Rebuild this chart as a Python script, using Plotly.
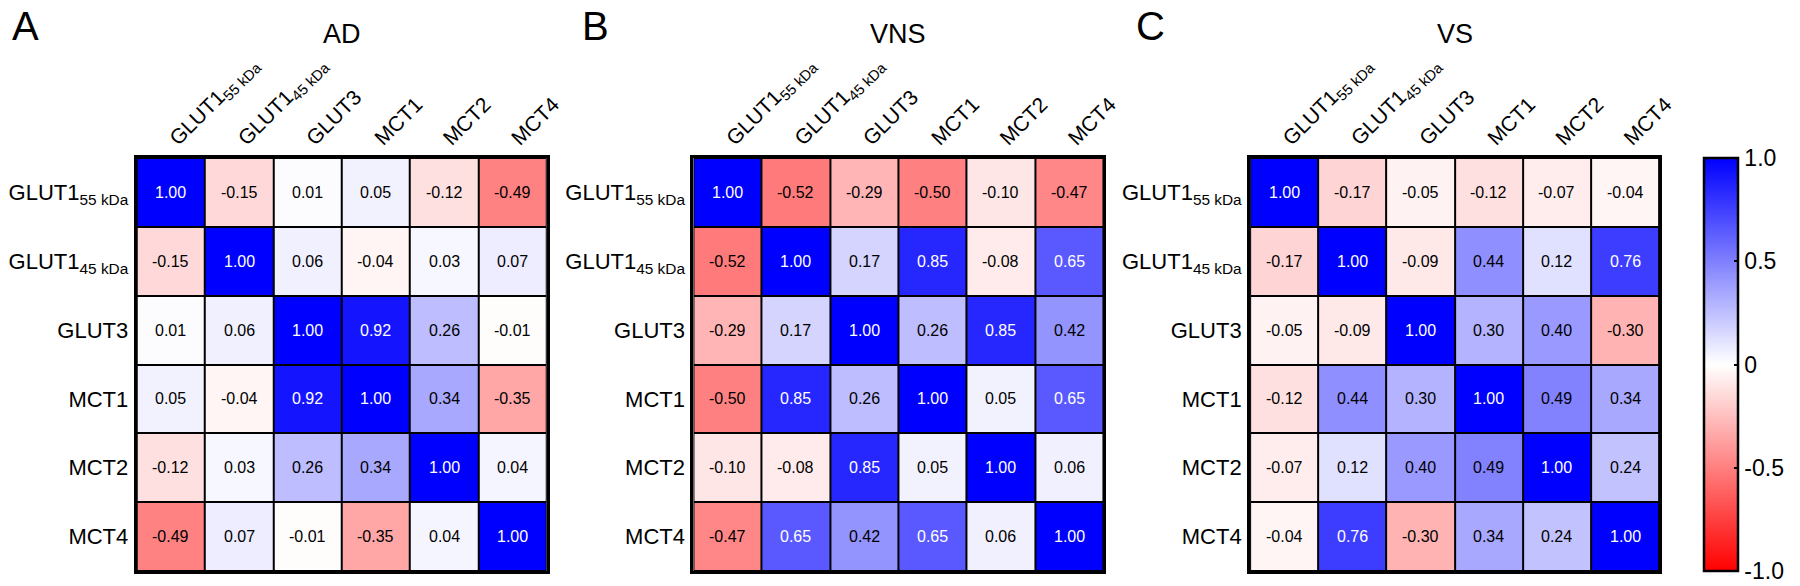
import plotly.graph_objects as go

labels = ["GLUT1<sub>55 kDa</sub>", "GLUT1<sub>45 kDa</sub>", "GLUT3", "MCT1", "MCT2", "MCT4"]

ad = [
    [1.00, -0.15, 0.01, 0.05, -0.12, -0.49],
    [-0.15, 1.00, 0.06, -0.04, 0.03, 0.07],
    [0.01, 0.06, 1.00, 0.92, 0.26, -0.01],
    [0.05, -0.04, 0.92, 1.00, 0.34, -0.35],
    [-0.12, 0.03, 0.26, 0.34, 1.00, 0.04],
    [-0.49, 0.07, -0.01, -0.35, 0.04, 1.00],
]
vns = [
    [1.00, -0.52, -0.29, -0.50, -0.10, -0.47],
    [-0.52, 1.00, 0.17, 0.85, -0.08, 0.65],
    [-0.29, 0.17, 1.00, 0.26, 0.85, 0.42],
    [-0.50, 0.85, 0.26, 1.00, 0.05, 0.65],
    [-0.10, -0.08, 0.85, 0.05, 1.00, 0.06],
    [-0.47, 0.65, 0.42, 0.65, 0.06, 1.00],
]
vs = [
    [1.00, -0.17, -0.05, -0.12, -0.07, -0.04],
    [-0.17, 1.00, -0.09, 0.44, 0.12, 0.76],
    [-0.05, -0.09, 1.00, 0.30, 0.40, -0.30],
    [-0.12, 0.44, 0.30, 1.00, 0.49, 0.34],
    [-0.07, 0.12, 0.40, 0.49, 1.00, 0.24],
    [-0.04, 0.76, -0.30, 0.34, 0.24, 1.00],
]
matrices = [ad, vns, vs]
titles = ["AD", "VNS", "VS"]
letters = ["A", "B", "C"]
cbar_ticks = [-1.0, -0.5, 0, 0.5, 1.0]
cbar_ticktext = ["-1.0", "-0.5", "0", "0.5", "1.0"]

W, H = 1800, 586
FONT = "Arial, Liberation Sans, Helvetica, sans-serif"
x_px = [(138, 552), (700, 1114), (1262, 1675)]
y_top, y_bot = 158, 571
letter_x = [10, 586, 1145]

colorscale = [[0.0, "#ff0000"], [0.5, "#ffffff"], [1.0, "#0000ff"]]

fig = go.Figure()
idx = list(range(len(labels)))
annotations = []
layout = {}

for k, (mat, ttl, let) in enumerate(zip(matrices, titles, letters)):
    sfx = "" if k == 0 else str(k + 1)
    xa, ya = "x" + sfx, "y" + sfx
    show_cb = (k == 2)
    fig.add_trace(go.Heatmap(
        z=mat, x=idx, y=idx, xaxis=xa, yaxis=ya,
        colorscale=colorscale, zmin=-1, zmax=1,
        xgap=2, ygap=2,
        showscale=show_cb,
        colorbar=dict(
            x=1720 / W, xanchor="left", y=1 - y_bot / H, yanchor="bottom",
            len=(y_bot - y_top) / H, lenmode="fraction",
            thickness=34, thicknessmode="pixels",
            outlinewidth=2.5, outlinecolor="black",
            tickvals=cbar_ticks, ticktext=cbar_ticktext,
            ticks="inside", ticklen=5, tickwidth=2, tickcolor="black",
            tickfont=dict(family=FONT, size=23, color="black"),
            xpad=0, ypad=0,
        ),
        hoverinfo="skip",
    ))
    x0, x1 = x_px[k]
    layout["xaxis" + sfx] = dict(
        domain=[x0 / W, x1 / W], anchor=ya, side="top",
        range=[-0.5, 5.5], tickvals=idx, ticktext=labels,
        tickangle=-45, tickfont=dict(family=FONT, size=21, color="black"),
        showgrid=False, zeroline=False, ticks="", ticklabelstandoff=-3,
        showline=True, mirror=True, linewidth=3, linecolor="black",
        fixedrange=True,
    )
    layout["yaxis" + sfx] = dict(
        domain=[1 - y_bot / H, 1 - y_top / H], anchor=xa,
        range=[5.5, -0.5], tickvals=idx, ticktext=labels,
        tickfont=dict(family=FONT, size=22, color="black"),
        showgrid=False, zeroline=False, ticks="", ticklabelstandoff=1,
        showline=True, mirror=True, linewidth=3, linecolor="black",
        fixedrange=True,
    )
    for i, row in enumerate(mat):
        for j, v in enumerate(row):
            annotations.append(dict(
                x=j, y=i, xref=xa, yref=ya, text=f"{v:.2f}", showarrow=False,
                font=dict(family=FONT, size=16, color="white" if v >= 0.6 else "black"),
            ))
    annotations.append(dict(
        x=(x0 + x1) / 2 / W, y=1 - 34 / H, xref="paper", yref="paper",
        text=ttl, showarrow=False, xanchor="center", yanchor="middle",
        font=dict(family=FONT, size=27, color="black"),
    ))
    annotations.append(dict(
        x=letter_x[k] / W, y=1 - 26 / H, xref="paper", yref="paper",
        text=let, showarrow=False, xanchor="left", yanchor="middle",
        font=dict(family=FONT, size=40, color="black"),
    ))

fig.update_layout(
    width=W, height=H,
    margin=dict(l=0, r=0, t=0, b=0),
    paper_bgcolor="white", plot_bgcolor="black",
    annotations=annotations,
    showlegend=False,
    **layout,
)

fig.write_html("out.html")
